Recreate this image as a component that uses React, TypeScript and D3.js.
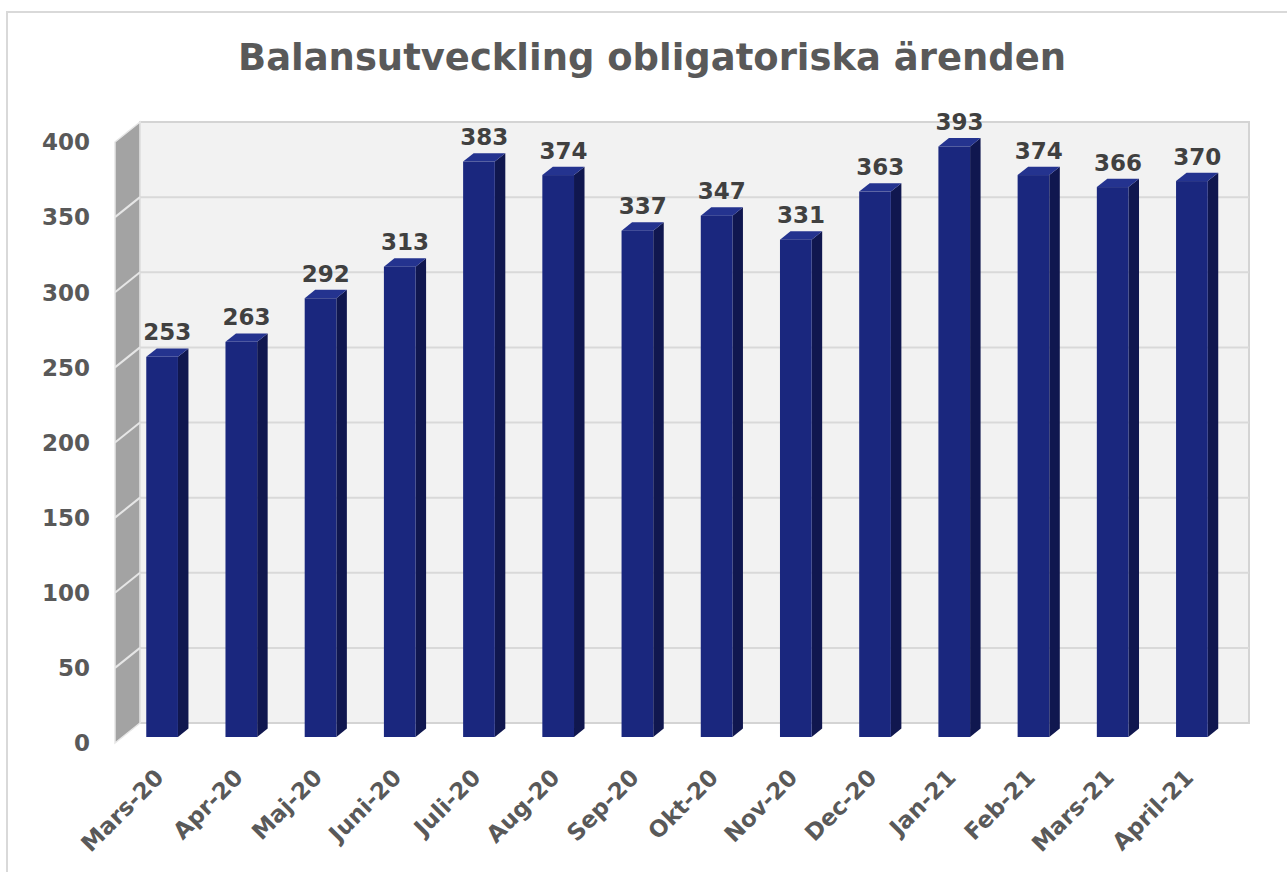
import React, { useEffect, useRef } from 'react';
import * as d3 from 'd3';

const months = ['Mars-20', 'Apr-20', 'Maj-20', 'Juni-20', 'Juli-20', 'Aug-20', 'Sep-20', 'Okt-20', 'Nov-20', 'Dec-20', 'Jan-21', 'Feb-21', 'Mars-21', 'April-21'];
const balance = [253, 263, 292, 313, 383, 374, 337, 347, 331, 363, 393, 374, 366, 370];
const yTicks = [0, 50, 100, 150, 200, 250, 300, 350, 400];
const title = 'Balansutveckling obligatoriska ärenden';

const App = () => {
  const svgRef = useRef<SVGSVGElement>(null);

  useEffect(() => {
    const svg = d3.select(svgRef.current);
    svg.selectAll('*').remove();

    const font = '"DejaVu Sans", Verdana, sans-serif';
    // front plane of the 3d box
    const left = 115, right = 1224, bottom = 743, top = 142;
    // depth offset (front -> back)
    const dx = 25, dy = -20;
    const barNear = 0.3, barFar = 0.72;

    const x = d3.scaleBand<string>()
      .domain(months)
      .range([left, right])
      .paddingInner(0.6)
      .paddingOuter(0.3);

    const y = d3.scaleLinear().domain([0, 400]).range([bottom, top]);

    // outer frame
    svg.append('rect')
      .attr('x', 7).attr('y', 12)
      .attr('width', 1320).attr('height', 900)
      .attr('fill', 'none')
      .attr('stroke', '#d9d9d9')
      .attr('stroke-width', 2);

    svg.append('text')
      .attr('x', 652)
      .attr('y', 70)
      .attr('text-anchor', 'middle')
      .attr('font-family', font)
      .attr('font-weight', 'bold')
      .attr('font-size', 38)
      .attr('fill', '#595959')
      .attr('textLength', 828)
      .attr('lengthAdjust', 'spacingAndGlyphs')
      .text(title);

    // back wall
    svg.append('rect')
      .attr('x', left + dx)
      .attr('y', y(400) + dy)
      .attr('width', right - left)
      .attr('height', y(0) - y(400))
      .attr('fill', '#f2f2f2')
      .attr('stroke', '#d4d4d4')
      .attr('stroke-width', 2);

    // side wall
    svg.append('polygon')
      .attr('points', [
        [left, y(0)], [left + dx, y(0) + dy], [left + dx, y(400) + dy], [left, y(400)]
      ].map(p => p.join(',')).join(' '))
      .attr('fill', '#a3a3a3')
      .attr('stroke', '#e6e6e6')
      .attr('stroke-width', 1.5);

    // grid lines
    svg.selectAll('.grid')
      .data(yTicks.filter(t => t > 0 && t < 400))
      .enter()
      .append('line')
      .attr('x1', left + dx)
      .attr('x2', right + dx)
      .attr('y1', d => y(d) + dy)
      .attr('y2', d => y(d) + dy)
      .attr('stroke', '#d9d9d9')
      .attr('stroke-width', 2);

    svg.selectAll('.sidegrid')
      .data(yTicks.filter(t => t > 0 && t < 400))
      .enter()
      .append('line')
      .attr('x1', left)
      .attr('x2', left + dx)
      .attr('y1', d => y(d))
      .attr('y2', d => y(d) + dy)
      .attr('stroke', '#e6e6e6')
      .attr('stroke-width', 2);

    // y tick labels
    svg.selectAll('.ytick')
      .data(yTicks)
      .enter()
      .append('text')
      .attr('x', 90)
      .attr('y', d => y(d))
      .attr('dy', '0.36em')
      .attr('text-anchor', 'end')
      .attr('font-family', font)
      .attr('font-weight', 'bold')
      .attr('font-size', 23)
      .attr('fill', '#595959')
      .text(d => d);

    // bars
    const nx = dx * barNear, ny = dy * barNear;
    const fx = dx * (barFar - barNear), fy = dy * (barFar - barNear);
    const bw = x.bandwidth();

    const bars = svg.selectAll('.bar')
      .data(months.map((m, i) => ({ m, v: balance[i] })))
      .enter()
      .append('g')
      .attr('transform', `translate(${nx},${ny})`);

    bars.append('polygon')
      .attr('points', d => {
        const x0 = x(d.m)! + bw, yt = y(d.v), yb = y(0);
        return [[x0, yb], [x0 + fx, yb + fy], [x0 + fx, yt + fy], [x0, yt]].map(p => p.join(',')).join(' ');
      })
      .attr('fill', '#10174f');

    bars.append('polygon')
      .attr('points', d => {
        const x0 = x(d.m)!, yt = y(d.v);
        return [[x0, yt], [x0 + fx, yt + fy], [x0 + bw + fx, yt + fy], [x0 + bw, yt]].map(p => p.join(',')).join(' ');
      })
      .attr('fill', '#24338f');

    bars.append('rect')
      .attr('x', d => x(d.m)!)
      .attr('y', d => y(d.v))
      .attr('width', bw)
      .attr('height', d => y(0) - y(d.v))
      .attr('fill', '#1a277e');

    bars.append('text')
      .attr('x', d => x(d.m)! + bw / 2 + fx / 2)
      .attr('y', d => y(d.v) + fy - 8)
      .attr('text-anchor', 'middle')
      .attr('font-family', font)
      .attr('font-weight', 'bold')
      .attr('font-size', 23)
      .attr('fill', '#404040')
      .text(d => d.v);

    // x labels
    svg.selectAll('.xlab')
      .data(months)
      .enter()
      .append('text')
      .attr('transform', d => `translate(${x(d)! + bw / 2 + nx + 3},${bottom + 36}) rotate(-45)`)
      .attr('text-anchor', 'end')
      .attr('font-family', font)
      .attr('font-weight', 'bold')
      .attr('font-size', 23)
      .attr('fill', '#595959')
      .text(d => d);
  }, []);

  return (
    <svg
      ref={svgRef}
      width={1287}
      height={872}
      style={{ position: 'absolute', left: 0, top: 0, background: '#fff' }}
    />
  );
};

export default App;
